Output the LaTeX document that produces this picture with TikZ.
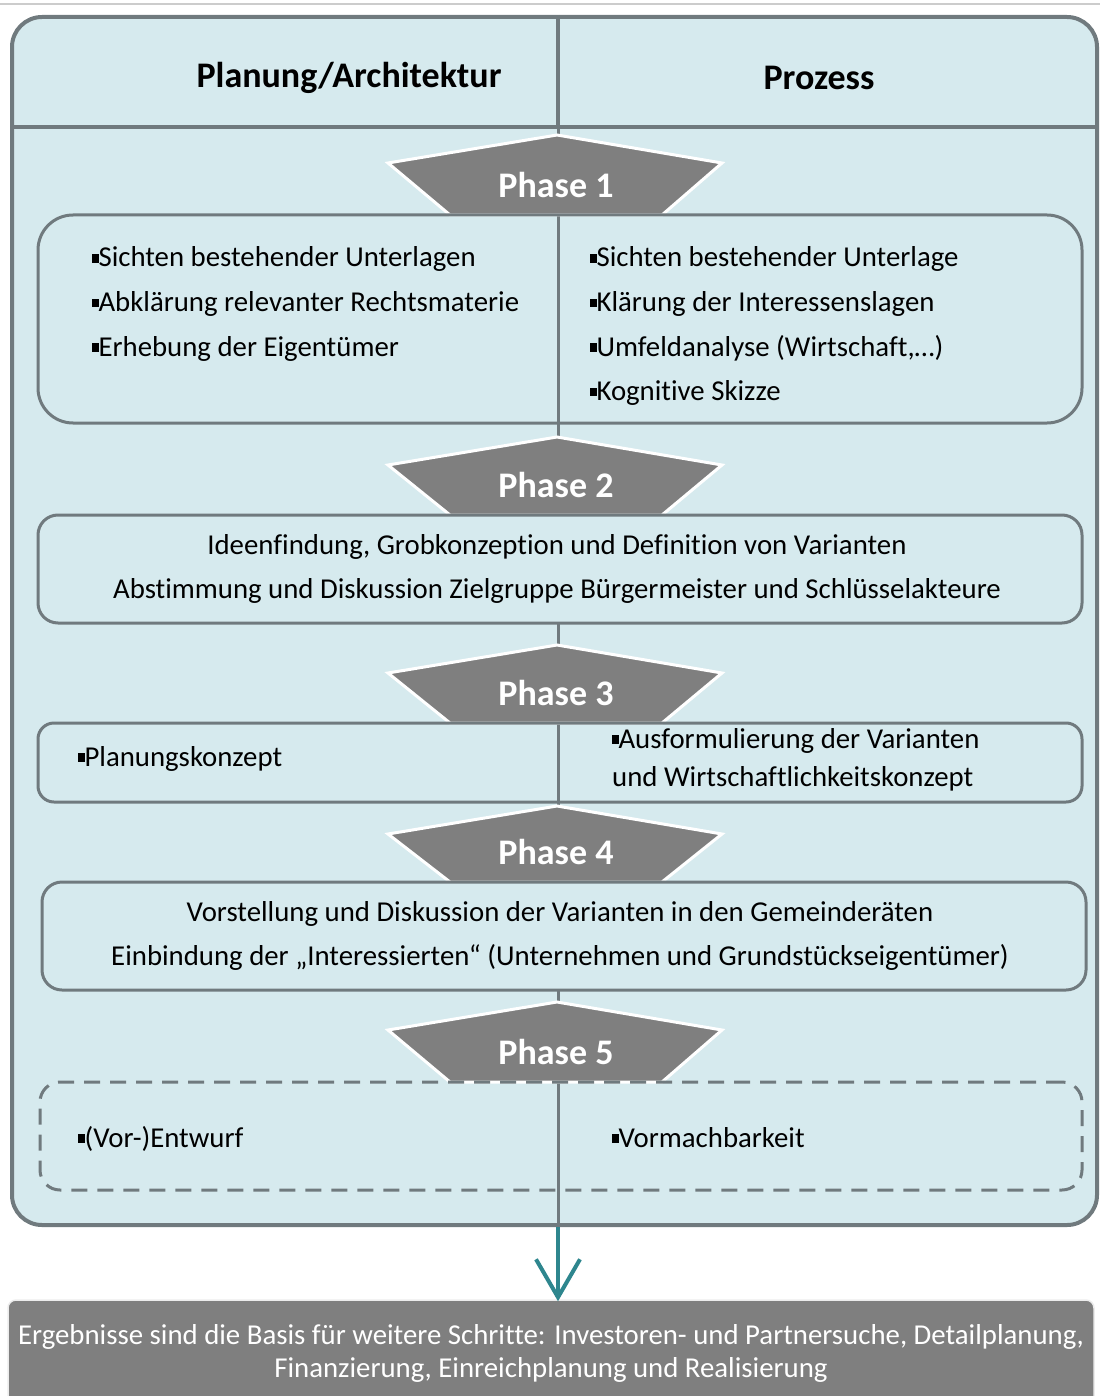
\documentclass[tikz,border=0pt]{standalone}
\usepackage{fontspec}
\setmainfont{Carlito}[Ligatures=NoCommon]
\usetikzlibrary{arrows.meta,positioning}

\definecolor{paneblue}{RGB}{214,234,238}
\definecolor{framegray}{RGB}{112,122,126}
\definecolor{phasegray}{RGB}{127,127,127}
\definecolor{arrowteal}{RGB}{46,134,142}
\newcommand{\bsq}{\rule[0.14em]{0.22em}{0.3em}}

\begin{document}
\begin{tikzpicture}[x=1pt, y=-1pt,
    frame/.style={draw=framegray, line width=4pt, fill=paneblue, rounded corners=30pt, minimum width=1085pt, minimum height=1208pt},
    panel/.style={draw=framegray, line width=3pt, rounded corners=20pt, minimum width=1044pt, inner sep=0pt},
    rule/.style={draw=framegray, line width=3.5pt},
    item/.style={anchor=base west, inner sep=0pt, font=\fontsize{28.8}{32}\selectfont},
    centred/.style={align=center, inner sep=0pt, font=\fontsize{28.8}{44}\selectfont},
    head/.style={inner sep=0pt, font=\bfseries\fontsize{36}{40}\selectfont},
    phaselabel/.style={inner sep=0pt, text=white, font=\bfseries\fontsize{36}{40}\selectfont}
  ]
    \useasboundingbox (0,0) rectangle (1100,1396);
    \draw[gray!40, line width=1.5pt] (0,4) -- (1100,4);

    % outer frame and header
    \node[frame] (outer) at (554.5,621) {};
    \coordinate (split) at (558,127);
    \draw[rule] (outer.west |- split) -- (outer.east |- split);
    \draw[rule] (split |- outer.north) -- (split);
    \node[head] (plan) at (349,78) {Planung/Architektur};
    \node[head] (proc) at (819,78) {Prozess};

    % central line and result arrow
    \draw[rule, line width=3pt] (split) -- (outer.south -| split);
    \node[fill=phasegray, draw=white!85!gray, line width=1.5pt, rounded corners=8pt, minimum width=1086pt, minimum height=106pt, inner sep=0pt,
      align=center, text=white, font=\fontsize{28.8}{33}\selectfont] (result) at (551,1353)
      {Ergebnisse sind die Basis für weitere Schritte: Investoren- und Partnersuche, Detailplanung,\\Finanzierung, Einreichplanung und Realisierung};
    \draw[arrowteal, line width=4pt, -{Straight Barb[length=38pt, width=44pt, line width=4pt]}] (outer.south -| split) -- ([yshift=-2pt]result.north -| split);

    % phase pentagons
    \foreach \n/\t/\b in {1/135/215, 2/437/515, 3/645/723, 4/806/882, 5/1002/1082} {
      \filldraw[fill=phasegray, draw=white, line width=3pt, line join=miter]
        (557,\t) -- (722,\t+28) -- (662,\b) -- (450,\b) -- (388,\t+28) -- cycle;
      \node[phaselabel] (ph\n) at (556,\b-30) {Phase \n};
    }

    % phase boxes
    \node[panel, rounded corners=35pt, minimum height=208pt] (box1) at (560,319) {};
    \node[panel, fill=paneblue, minimum height=108pt] (box2) at (560,569) {};
    \node[panel, rounded corners=16pt, minimum height=79pt] (box3) at (560,762.5) {};
    \node[panel, fill=paneblue, minimum height=108pt] (box4) at (564,936) {};
    \node[panel, dashed, dash pattern=on 16pt off 10pt, minimum width=1042pt, minimum height=108pt] (box5) at (561,1136) {};

    % phase 1
    \foreach \t [count=\i] in {Sichten bestehender Unterlagen, Abklärung relevanter Rechtsmaterie, Erhebung der Eigentümer}
      \node[item] (left\i) at (92,267+44.5*\i-44.5) {\bsq\t};
    \foreach \t [count=\i] in {Sichten bestehender Unterlage, Klärung der Interessenslagen, {Umfeldanalyse (Wirtschaft,…)}, Kognitive Skizze}
      \node[item] (right\i) at (590,267+44.5*\i-44.5) {\bsq\t};

    % phase 2
    \node[centred] (ideen) at (557,569) {Ideenfindung, Grobkonzeption und Definition von Varianten\\Abstimmung und Diskussion Zielgruppe Bürgermeister und Schlüsselakteure};

    % phase 3
    \node[item] (konzept) at (78,766) {\bsq Planungskonzept};
    \node[item] (ausform) at (612,748) {\bsq Ausformulierung der Varianten};
    \node[item] (wirt) at (612,786) {und Wirtschaftlichkeitskonzept};

    % phase 4
    \node[centred] (vorst) at (560,936) {Vorstellung und Diskussion der Varianten in den Gemeinderäten\\Einbindung der „Interessierten“ (Unternehmen und Grundstückseigentümer)};

    % phase 5
    \node[item] (entwurf) at (78,1147) {\bsq(Vor-)Entwurf};
    \node[item] (vormach) at (612,1147) {\bsq Vormachbarkeit};
  \end{tikzpicture}
\end{document}
